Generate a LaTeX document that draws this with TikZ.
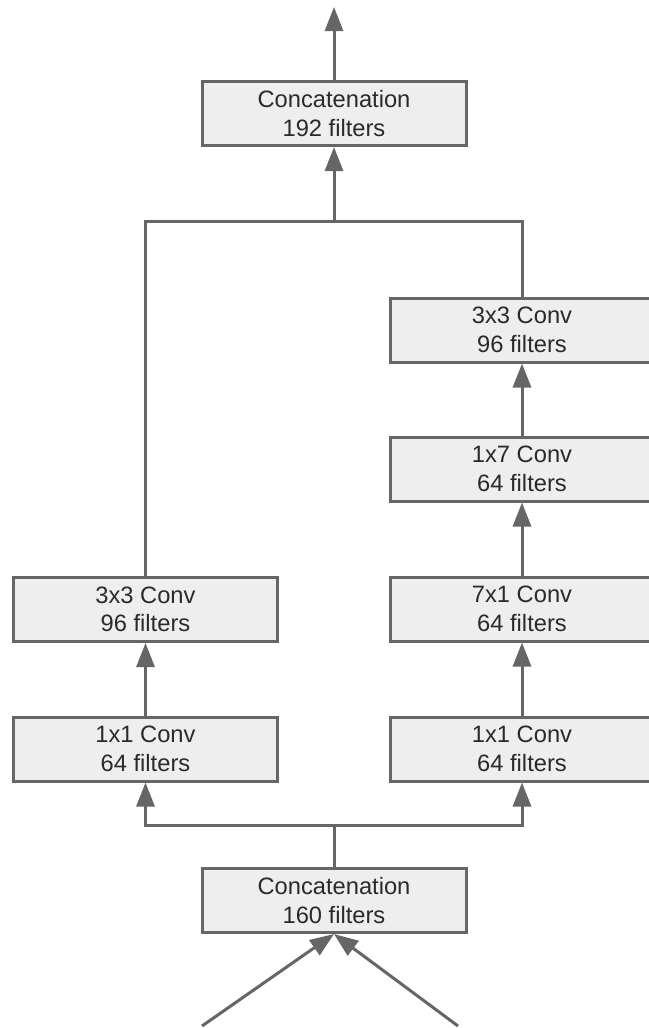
\documentclass[tikz,border=0pt]{standalone}
\usepackage{fontspec}
\setmainfont{Liberation Sans}
\usetikzlibrary{arrows.meta}
\definecolor{edgegray}{HTML}{666666}
\definecolor{boxfill}{HTML}{EEEEEE}
\definecolor{textgray}{HTML}{2A2A2A}
\begin{document}
\begin{tikzpicture}[x=1pt,y=-1pt,
  layer/.style={draw=edgegray, fill=boxfill, line width=3pt,
    minimum width=264pt, minimum height=64pt, inner sep=0pt,
    align=center, text=textgray,
    font=\fontsize{23.7}{28.5}\selectfont},
  link/.style={draw=edgegray, line width=3pt},
  flow/.style={link, -{Triangle[length=24pt,width=18pt]}}]
\useasboundingbox (0,0) rectangle (648,1028);

% blocks
\node[layer] (cattop) at (334,113.5) {Concatenation\\192 filters};
\node[layer] (catbot) at (334,900.5) {Concatenation\\160 filters};
\node[layer] (lthree) at (145.5,609.5) {3x3 Conv\\96 filters};
\node[layer] (lone)   at (145.5,749) {1x1 Conv\\64 filters};
\node[layer] (rthree) at (522,330) {3x3 Conv\\96 filters};
\node[layer] (rsevenB) at (522,469) {1x7 Conv\\64 filters};
\node[layer] (rsevenA) at (522,609) {7x1 Conv\\64 filters};
\node[layer] (rone)   at (522,749) {1x1 Conv\\64 filters};

% junction points
\coordinate (out) at (334,7);
\coordinate (merge) at (334,221);
\coordinate (split) at (334,825);
\coordinate (inA) at (202,1026);
\coordinate (inB) at (458,1026);

% output
\draw[flow] (cattop.north) -- (out);

% merge of the two branches
\draw[link] (lthree.north) |- (merge) -| (rthree.north);
\draw[flow] (merge) -- (cattop.south);

% branch chains
\draw[flow] (lone.north) -- (lthree.south);
\draw[flow] (rone.north) -- (rsevenA.south);
\draw[flow] (rsevenA.north) -- (rsevenB.south);
\draw[flow] (rsevenB.north) -- (rthree.south);

% split into the two branches
\draw[link] (catbot.north) -- (split);
\draw[flow] (split) -| (lone.south);
\draw[flow] (split) -| (rone.south);

% inputs
\draw[flow] (inA) -- (catbot.south);
\draw[flow] (inB) -- (catbot.south);
\end{tikzpicture}
\end{document}
